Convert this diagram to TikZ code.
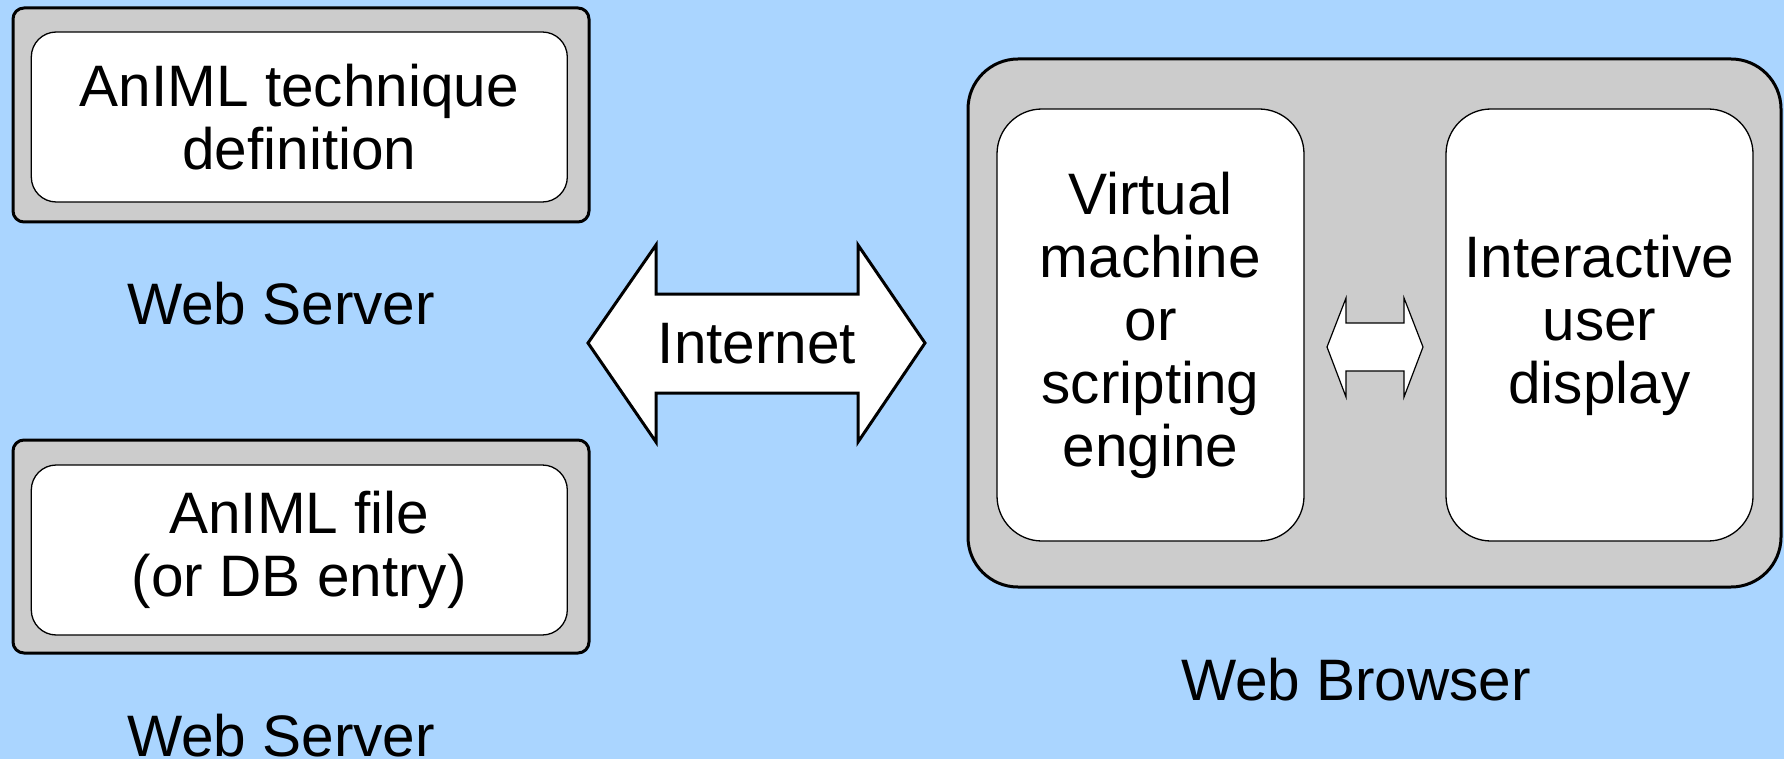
\documentclass[tikz,border=0pt]{standalone}
\usepackage{fontspec}
\setmainfont{Liberation Sans}
\definecolor{bgblue}{RGB}{170,213,255}
\definecolor{boxgray}{RGB}{204,204,204}
\begin{document}
\begin{tikzpicture}[x=1pt,y=-1pt,
  font=\fontsize{58.5}{63}\selectfont,
  outerbox/.style={draw=black,fill=boxgray,line width=3pt,rounded corners=11pt,inner sep=0pt,rectangle},
  innerbox/.style={draw=black,fill=white,line width=1.3pt,rounded corners=25pt,inner sep=0pt,rectangle,align=center},
  browserbox/.style={draw=black,fill=boxgray,line width=3pt,rounded corners=50pt,inner sep=0pt,rectangle},
  partbox/.style={draw=black,fill=white,line width=1.3pt,rounded corners=45pt,inner sep=0pt,rectangle,align=center,minimum width=307pt,minimum height=432pt},
  bigarrow/.style={draw=black,fill=white,line width=3pt,line join=miter},
  smallarrow/.style={draw=black,fill=white,line width=1.2pt,line join=miter},
  label/.style={anchor=base,inner sep=0pt}]
\fill[bgblue] (0,0) rectangle (1784,759);
\useasboundingbox (0,0) rectangle (1784,759);
% web server 1
\node[outerbox,minimum width=576pt,minimum height=214pt] (s1out) at (301,115) {};
\node[innerbox,minimum width=536pt,minimum height=170pt] (s1in) at (299.3,117) {AnIML technique\\definition};
\node[label] (ws1) at (281,324) {Web Server};
% web server 2
\node[outerbox,minimum width=576pt,minimum height=213pt] (s2out) at (301,546.5) {};
\node[innerbox,minimum width=536pt,minimum height=170pt] (s2in) at (299.3,550) {AnIML file\\(or DB entry)};
\node[label] (ws2) at (281,756) {Web Server};
% internet arrow
\draw[bigarrow] (588,343) -- (656,245) -- (656,294) -- (858,294) -- (858,245) -- (925,343)
  -- (858,442) -- (858,393) -- (656,393) -- (656,442) -- cycle;
\node[inner sep=0pt] (inet) at (757,344) {Internet};
% web browser
\node[browserbox,minimum width=813pt,minimum height=528pt] (brw) at (1374.5,323) {};
\node[partbox] (vm) at (1150.5,325) {Virtual\\machine\\or\\scripting\\engine};
\node[partbox] (disp) at (1599.5,325) {Interactive\\user\\display};
\draw[smallarrow] (1327,347) -- (1346,298) -- (1346,323) -- (1404,323) -- (1404,298) -- (1423,347)
  -- (1404,397) -- (1404,371) -- (1346,371) -- (1346,397) -- cycle;
\node[label] (wb) at (1356,700) {Web Browser};
\end{tikzpicture}
\end{document}
